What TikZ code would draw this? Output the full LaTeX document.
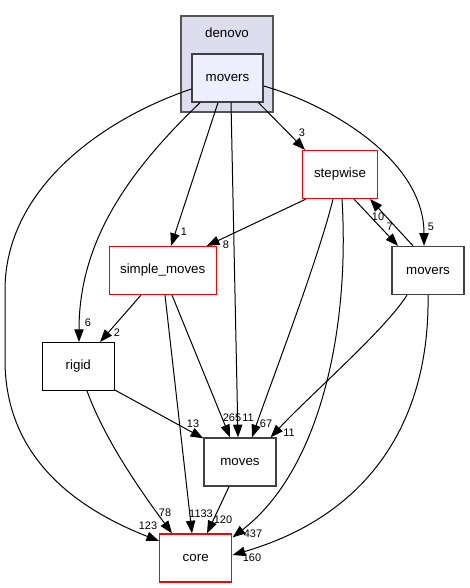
\documentclass[tikz,border=0pt]{standalone}
\usepackage{fontspec}
\setmainfont{Liberation Sans}
\usetikzlibrary{arrows.meta,calc}
\definecolor{clfill}{HTML}{DDDDEE}
\definecolor{clborder}{HTML}{555555}
\definecolor{mvfill}{HTML}{EEEEFF}
\definecolor{dkborder}{HTML}{404040}
\begin{document}
\begin{tikzpicture}[x=0.75pt,y=-0.75pt,
 box/.style={draw=black, line width=0.75pt, fill=white, rectangle, inner sep=0pt, minimum width=54pt, minimum height=36pt, font=\fontsize{10}{12}\selectfont},
 redbox/.style={box, draw=red, line width=0.9pt},
 darkbox/.style={box, draw=dkborder, line width=1pt},
 edge/.style={draw=black, line width=0.75pt, -{Triangle[length=9.5pt,width=7pt]}},
 lbl/.style={inner sep=0pt, font=\fontsize{8.2}{10}\selectfont}]
\useasboundingbox (0,0) rectangle (469,588);
% cluster
\node[draw=clborder, fill=clfill, line width=0.9pt, minimum width=69pt, minimum height=72pt, inner sep=0pt] (denovo) at (227,64) {};
\node[font=\fontsize{10}{12}\selectfont, inner sep=0pt] (denovolbl) at (227,33) {denovo};
% nodes
\node[darkbox, fill=mvfill, minimum width=53.25pt] (mv) at (227.5,78) {movers};
\node[redbox, minimum width=56.25pt] (stepwise) at (340,174.5) {stepwise};
\node[darkbox] (mvr) at (428,270.5) {movers};
\node[redbox, minimum width=80.25pt] (sm) at (162.7,270.5) {simple\_moves};
\node[box] (rigid) at (78.3,366.5) {rigid};
\node[darkbox] (moves) at (240,462) {moves};
\node[redbox] (core) at (195.7,558) {core};
% edges
\draw[edge] ($(mv.south)+(31,0)$) -- ($(stepwise.north)+(-35,0)$);
\draw[edge] ($(mv.east)+(0,8)$) .. controls (330,105) and (424,160) .. ($(mvr.north)+(-4,0)$);
\draw[edge] ($(mv.south)+(-9.5,0)$) -- ($(sm.north)+(8.3,0)$);
\draw[edge] ($(mv.south)+(3.5,0)$) -- ($(moves.north)+(-2,0)$);
\draw[edge] ($(mv.south)+(-27.5,0)$) .. controls (130,170) and (79,240) .. ($(rigid.north)+(0.7,0)$);
\draw[edge] ($(mv.west)+(0,11)$) .. controls (100,120) and (5,190) .. (5,290) -- (5,360) .. controls (5,460) and (80,510) .. ($(core.west)+(0,-17)$);
\draw[edge] ($(stepwise.south west)+(4,0)$) -- ($(sm.north east)+(-10,0)$);
\draw[edge] ($(stepwise.south)+(14,0)$) -- ($(mvr.north)+(-30,0)$);
\draw[edge] ($(mvr.north)+(-15,0)$) -- ($(stepwise.south)+(30,0)$);
\draw[edge] ($(stepwise.south)+(-7,0)$) .. controls (318,260) and (272,380) .. ($(moves.north)+(12,0)$);
\draw[edge] ($(stepwise.south)+(2,0)$) .. controls (350,330) and (320,470) .. ($(core.north east)+(0.3,4)$);
\draw[edge] ($(mvr.south)+(-21,0)$) .. controls (385,330) and (310,395) .. ($(moves.north east)+(-6,0)$);
\draw[edge] (mvr.south) .. controls (430,420) and (370,515) .. ($(core.east)+(0.3,-3)$);
\draw[edge] ($(sm.south)+(-21.7,0)$) -- ($(rigid.north)+(21.7,0)$);
\draw[edge] ($(sm.south)+(9.3,0)$) -- ($(moves.north)+(-10,0)$);
\draw[edge] ($(sm.south)+(2.3,0)$) -- ($(core.north)+(-3.7,0)$);
\draw[edge] ($(rigid.south east)+(0,-1)$) -- ($(moves.north west)+(0,1)$);
\draw[edge] ($(rigid.south)+(8.7,0)$) .. controls (105,440) and (140,490) .. ($(core.north)+(-23.7,0)$);
\draw[edge] ($(moves.south)+(-11,0)$) -- ($(core.north)+(11.3,0)$);
% labels
\node[lbl] (l3) at (302,133) {3};
\node[lbl] (l5) at (431,227) {5};
\node[lbl] (l1) at (184,232) {1};
\node[lbl] (l8) at (226,245) {8};
\node[lbl] (l10) at (378,217) {10};
\node[lbl] (l7) at (390,227) {7};
\node[lbl] (l6) at (88,323) {6};
\node[lbl] (l2) at (117,333) {2};
\node[lbl] (l265) at (232,418) {265};
\node[lbl] (l11a) at (248,418) {11};
\node[lbl] (l67) at (266,424) {67};
\node[lbl] (l11b) at (289,433) {11};
\node[lbl] (l13) at (193,424) {13};
\node[lbl] (l78) at (165,513) {78};
\node[lbl] (l123) at (148,526) {123};
\node[lbl] (l1133) at (201,514) {1133};
\node[lbl] (l120) at (223,520) {120};
\node[lbl] (l437) at (253,534) {437};
\node[lbl] (l160) at (252,558) {160};
\end{tikzpicture}
\end{document}
